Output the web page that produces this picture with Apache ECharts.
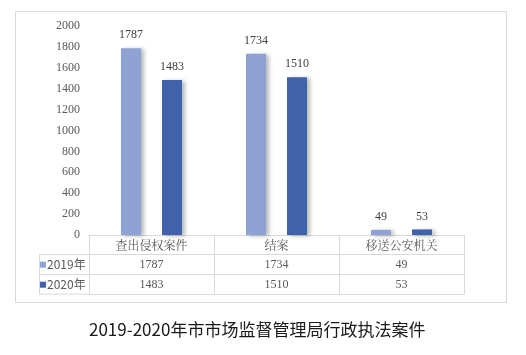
<!DOCTYPE html>
<html>
<head>
<meta charset="utf-8">
<script src="https://cdn.jsdelivr.net/npm/echarts@6/dist/echarts.min.js"></script>
<style>
  html, body { margin: 0; padding: 0; background: #fff; }
  #chart { width: 526px; height: 355px; }
</style>
</head>
<body>
<div id="chart"></div>
<script>
const categories = ['查出侵权案件', '结案', '移送公安机关']
const seriesNames = ['2019年', '2020年']
const values2019 = [1787, 1734, 49]
const values2020 = [1483, 1510, 53]
const yTicks = [0, 200, 400, 600, 800, 1000, 1200, 1400, 1600, 1800, 2000]

const colors = ['#8EA3D3', '#3F62AB']
const numFont = '"Liberation Serif", "Noto Sans CJK SC", serif'
const cjkFont = '"Noto Sans CJK SC", sans-serif'
const lineColor = '#d9d9d9'
const textColor = '#595959'

// layout (px)
const gridLeft = 89, gridRight = 62, gridTop = 26, gridBottom = 120
const rowH = 19.7
const axisY = 355 - gridBottom
const legendLeft = 39

const chart = echarts.init(document.getElementById('chart'))

function rowAxis (offset, values, showTick) {
  return {
    type: 'category',
    data: categories,
    position: 'bottom',
    offset: offset,
    axisLine: { show: true, lineStyle: { color: lineColor, width: 1 } },
    axisTick: { show: showTick, length: rowH, lineStyle: { color: lineColor } },
    axisLabel: {
      show: !!values,
      margin: 4,
      color: textColor,
      fontFamily: numFont,
      fontSize: 12,
      formatter: (v, i) => values ? String(values[i]) : ''
    },
    splitLine: { show: false }
  }
}

const barShadow = {
  shadowColor: 'rgba(0,0,0,0.28)',
  shadowBlur: 4,
  shadowOffsetX: 3,
  shadowOffsetY: 1
}

const option = {
  animation: false,
  backgroundColor: '#fff',
  title: {
    text: '2019-2020年市市场监督管理局行政执法案件',
    left: 84,
    top: 316,
    textStyle: { fontFamily: cjkFont, fontSize: 17, fontWeight: 'normal', color: '#1a1a1a' }
  },
  legend: {
    orient: 'vertical',
    left: legendLeft + 1,
    top: axisY + rowH + 3,
    padding: 0,
    itemWidth: 6,
    itemHeight: 6,
    itemGap: 6,
    icon: 'rect',
    data: seriesNames,
    textStyle: { fontFamily: cjkFont, fontSize: 12, lineHeight: 14, color: textColor, padding: [0, 0, 0, -4] }
  },
  grid: { left: gridLeft, right: gridRight, top: gridTop, bottom: gridBottom },
  xAxis: [
    {
      type: 'category',
      data: categories,
      axisLine: { show: true, lineStyle: { color: lineColor } },
      axisTick: { show: true, length: rowH, lineStyle: { color: lineColor } },
      axisLabel: { margin: 4, color: textColor, fontFamily: '"Noto Serif CJK SC", ' + cjkFont, fontSize: 12 }
    },
    rowAxis(rowH, values2019, true),
    rowAxis(rowH * 2, values2020, true),
    rowAxis(rowH * 3, null, false)
  ],
  yAxis: {
    type: 'value',
    min: 0,
    max: yTicks[yTicks.length - 1],
    interval: yTicks[1] - yTicks[0],
    axisLine: { show: false },
    axisTick: { show: false },
    splitLine: { show: false },
    axisLabel: { margin: 9, color: textColor, fontFamily: numFont, fontSize: 12, formatter: v => String(v) }
  },
  series: [
    {
      name: seriesNames[0],
      type: 'bar',
      data: values2019,
      barWidth: 20,
      barGap: '105%',
      itemStyle: Object.assign({ color: colors[0] }, barShadow),
      label: { show: true, position: 'top', distance: 7, color: '#404040', fontFamily: numFont, fontSize: 12 }
    },
    {
      name: seriesNames[1],
      type: 'bar',
      data: values2020,
      barWidth: 20,
      itemStyle: Object.assign({ color: colors[1] }, barShadow),
      label: { show: true, position: 'top', distance: 7, color: '#404040', fontFamily: numFont, fontSize: 12 }
    }
  ],
  graphic: [
    // outer frame
    { type: 'rect', shape: { x: 15.5, y: 11.5, width: 491, height: 291 }, style: { fill: 'none', stroke: lineColor, lineWidth: 1 }, silent: true },
    // legend cells of the data table
    { type: 'line', shape: { x1: legendLeft, y1: axisY + rowH, x2: gridLeft, y2: axisY + rowH }, style: { stroke: lineColor } },
    { type: 'line', shape: { x1: legendLeft, y1: axisY + rowH * 2, x2: gridLeft, y2: axisY + rowH * 2 }, style: { stroke: lineColor } },
    { type: 'line', shape: { x1: legendLeft, y1: axisY + rowH * 3, x2: gridLeft, y2: axisY + rowH * 3 }, style: { stroke: lineColor } },
    { type: 'line', shape: { x1: legendLeft + 0.5, y1: axisY + rowH, x2: legendLeft + 0.5, y2: axisY + rowH * 3 }, style: { stroke: lineColor } }
  ]
}

chart.setOption(option)
</script>
</body>
</html>
